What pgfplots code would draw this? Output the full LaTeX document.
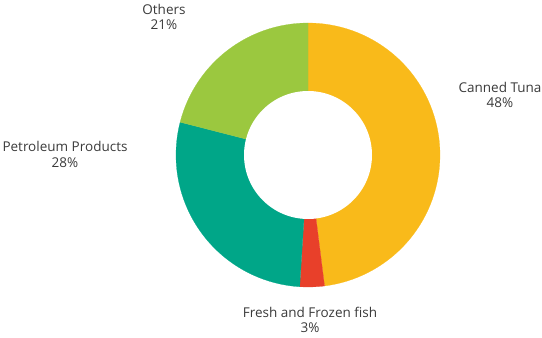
\documentclass[border=0pt]{standalone}
\usepackage{pgfplots}
\pgfplotsset{compat=1.18}
\usepackage{fontspec}
\setmainfont{Open Sans}
\definecolor{tuna}{HTML}{F9BA1A}
\definecolor{fresh}{HTML}{E8402A}
\definecolor{petro}{HTML}{00A688}
\definecolor{others}{HTML}{9BC83F}
\definecolor{lbl}{HTML}{3A3A3A}
% shares (percent): Canned Tuna 48, Fresh and Frozen fish 3, Petroleum Products 28, Others 21
\def\pA{48}\def\pB{3}\def\pC{28}\def\pD{21}
\def\cx{308}\def\cy{183}\def\R{132}\def\r{64}
\begin{document}
\begin{tikzpicture}
\begin{axis}[
  scale only axis, width=542pt, height=338pt,
  xmin=0, xmax=542, ymin=0, ymax=338,
  hide axis, clip=false,
  samples=120, variable=\t,
]
% Canned Tuna: from 90 clockwise
\addplot[fill=tuna, draw=tuna, line width=0.2pt, domain={90-3.6*\pA}:90]
  ({\cx+\R*cos(\t)},{\cy+\R*sin(\t)}) -- (axis cs:\cx,\cy) -- cycle;
\addplot[fill=fresh, draw=fresh, line width=0.2pt, domain={90-3.6*(\pA+\pB)}:{90-3.6*\pA}, samples=20]
  ({\cx+\R*cos(\t)},{\cy+\R*sin(\t)}) -- (axis cs:\cx,\cy) -- cycle;
\addplot[fill=petro, draw=petro, line width=0.2pt, domain={90-3.6*(\pA+\pB+\pC)}:{90-3.6*(\pA+\pB)}]
  ({\cx+\R*cos(\t)},{\cy+\R*sin(\t)}) -- (axis cs:\cx,\cy) -- cycle;
\addplot[fill=others, draw=others, line width=0.2pt, domain={90-3.6*(\pA+\pB+\pC+\pD)}:{90-3.6*(\pA+\pB+\pC)}]
  ({\cx+\R*cos(\t)},{\cy+\R*sin(\t)}) -- (axis cs:\cx,\cy) -- cycle;
% hole
\addplot[fill=white, draw=none, domain=0:360, samples=150]
  ({\cx+\r*cos(\t)},{\cy+\r*sin(\t)}) -- cycle;
% labels
\begin{scope}[every node/.style={anchor=base, font=\fontsize{13.5}{15}\selectfont, text=lbl, inner sep=0pt}]
\node at (axis cs:164,{338-15}) {Others};
\node at (axis cs:164,{338-29.5}) {21\%};
\node at (axis cs:500,{338-93}) {Canned Tuna};
\node at (axis cs:500,{338-108}) {48\%};
\node at (axis cs:65,{338-152}) {Petroleum Products};
\node at (axis cs:65,{338-167}) {28\%};
\node at (axis cs:310,{338-317}) {Fresh and Frozen fish};
\node at (axis cs:310,{338-332}) {3\%};
\end{scope}
\end{axis}
\pgfresetboundingbox
\useasboundingbox (current axis.south west) rectangle (current axis.north east);
\end{tikzpicture}
\end{document}
